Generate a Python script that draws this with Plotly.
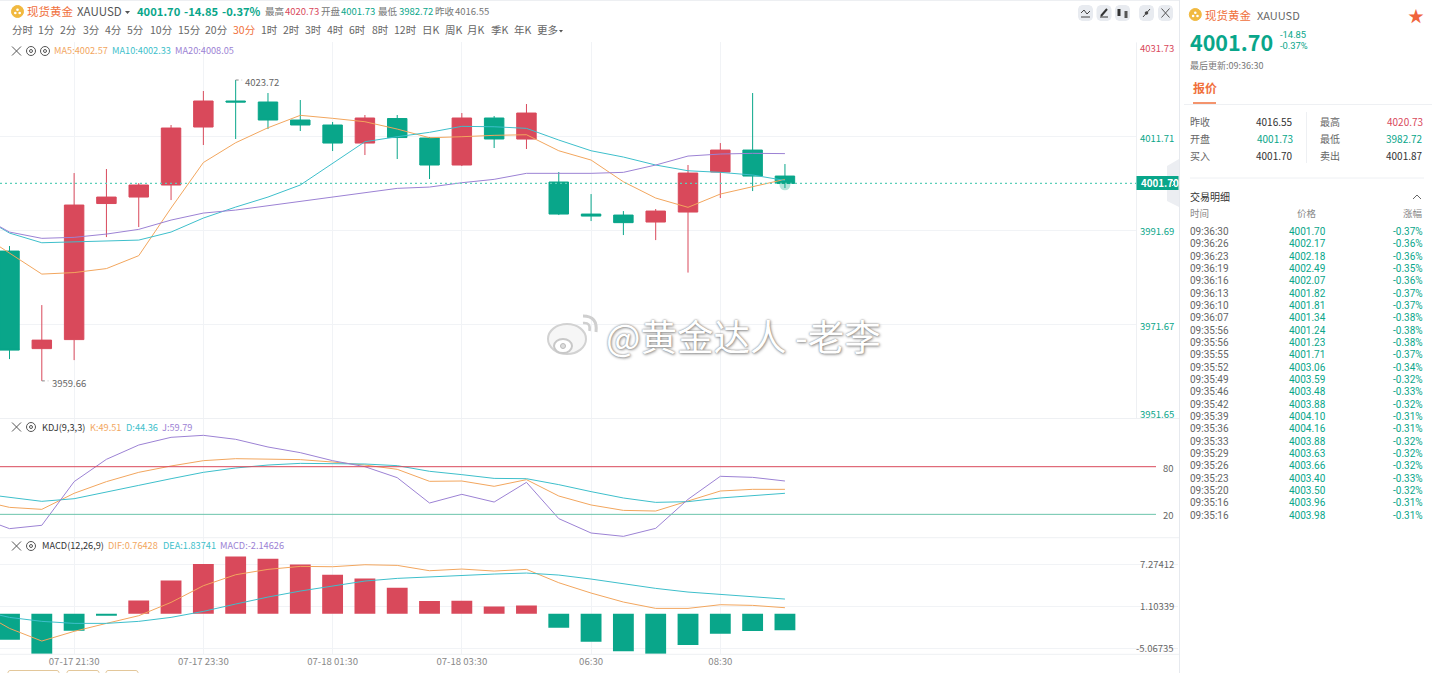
import plotly.graph_objects as go

W, H = 1432, 673
# ---------- data ----------
candle_idx = list(range(25))
line_idx = list(range(-1, 25))
open_ = [3987.30,3966.53,3968.45,3997.42,3998.80,4001.36,4013.71,4019.25,4019.04,4015.20,4014.14,4010.30,4015.52,4011.37,4005.62,4015.63,4011.15,4002.00,3995.18,3994.97,3993.48,3995.61,4004.13,4008.81,4003.27]
close = [3966.21,3968.34,3997.10,3998.80,4001.36,4013.50,4019.25,4019.04,4015.20,4014.14,4010.30,4015.63,4011.47,4005.62,4015.63,4011.16,4016.69,3995.18,3994.75,3993.35,3995.82,4003.91,4008.81,4003.27,4001.70]
high = [3988.37,3975.80,4003.91,4004.77,4001.78,4014.14,4021.38,4023.72,4020.95,4019.46,4014.78,4016.27,4016.27,4011.58,4016.69,4016.05,4018.61,4004.13,3999.44,3995.82,3996.25,4005.62,4010.30,4020.95,4005.83]
low = [3964.30,3959.66,3964.08,3990.28,3992.41,3998.16,4009.88,4011.16,4013.28,4012.86,4008.60,4007.75,4006.90,4002.64,4005.40,4009.24,4009.03,3994.97,3993.69,3990.71,3989.64,3982.72,3998.59,4000.08,4000.72]
ma5 = [3991.35,3986.96,3982.40,3982.72,3983.57,3986.32,3996.46,4006.15,4010.37,4013.56,4016.20,4015.56,4014.84,4013.28,4011.43,4011.65,4011.94,4012.07,4008.66,4006.68,4002.06,3998.59,3996.61,3999.44,4000.93,4002.57]
ma10 = [3995.18,3991.13,3989.07,3989.28,3989.43,3989.64,3991.35,3994.33,3996.67,3998.80,4001.36,4005.98,4010.58,4011.65,4012.58,4013.86,4013.77,4013.43,4010.94,4008.66,4007.32,4005.62,4004.40,4004.06,4003.49,4002.33]
ma20 = [3995.18,3991.35,3990.01,3990.22,3990.92,3991.92,3993.90,3995.39,3996.03,3996.95,3997.80,3998.74,3999.80,4000.65,4000.93,4001.85,4002.57,4003.85,4003.85,4003.85,4004.06,4005.62,4007.53,4007.96,4008.11,4008.05]
k_line = [38.1,28.8,26.3,46.5,61.2,72.9,80.9,87.6,90.1,89.3,88.9,85.9,82.1,76.7,61.6,62.0,55.3,63.7,43.1,31.8,25.0,24.2,37.2,49.4,51.5,51.5]
d_line = [46.5,41.4,36.4,39.7,47.7,56.5,64.9,72.9,78.4,82.1,84.2,84.2,83.4,81.3,74.2,70.0,65.3,64.9,57.4,48.6,40.6,35.1,36.0,40.6,43.9,46.5]
j_line = [17.1,2.0,6.2,61.2,89.3,107.3,117.0,119.5,114.5,104.8,97.7,87.6,80.0,66.2,34.3,45.2,35.5,60.3,14.6,-3.5,-7.7,2.4,38.9,67.9,66.6,62.0]
macd_hist = [-3.824,-5.882,-2.5,-0.147,1.961,4.902,7.304,8.431,8.088,7.255,5.735,5.196,3.824,1.863,1.912,1.078,1.225,-2.059,-4.118,-5.539,-5.882,-4.608,-2.941,-2.549,-2.451]
dif = [0.539,-2.157,-4.02,-2.598,-1.422,-0.294,1.667,4.118,5.735,6.52,6.961,6.912,7.206,7.108,6.324,6.569,6.275,6.52,4.559,3.039,1.716,0.784,0.784,1.324,1.225,0.882]
dea = [0.539,-0.539,-1.127,-1.422,-1.422,-1.127,-0.539,0.343,1.422,2.451,3.333,4.069,4.804,5.196,5.441,5.686,5.833,5.98,5.686,5.098,4.363,3.725,3.186,2.843,2.5,2.157]
x_tick_idx = [2, 6, 10, 14, 18, 22]
x_tick_text = ["07-17 21:30","07-17 23:30","07-18 01:30","07-18 03:30","06:30","08:30"]
price_ticks = [4031.73, 4011.71, 3991.69, 3971.67, 3951.65]
macd_ticks = [7.27412, 1.10339, -5.06735]
kdj_levels = [80, 20]
last_price = 4001.70
periods = ["分时","1分","2分","3分","4分","5分","10分","15分","20分","30分","1时","2时","3时","4时","6时","8时","12时","日K","周K","月K","季K","年K","更多"]
trade_times = ["09:36:30","09:36:26","09:36:23","09:36:19","09:36:16","09:36:13","09:36:10","09:36:07","09:35:56","09:35:56","09:35:55","09:35:52","09:35:49","09:35:46","09:35:42","09:35:39","09:35:36","09:35:33","09:35:29","09:35:26","09:35:23","09:35:20","09:35:16","09:35:16"]
trade_prices = ["4001.70","4002.17","4002.18","4002.49","4002.07","4001.82","4001.81","4001.34","4001.24","4001.23","4001.71","4003.06","4003.59","4003.48","4003.88","4004.10","4004.16","4003.88","4003.63","4003.66","4003.40","4003.50","4003.96","4003.98"]
trade_pcts = ["-0.37%","-0.36%","-0.36%","-0.35%","-0.36%","-0.37%","-0.37%","-0.38%","-0.38%","-0.38%","-0.37%","-0.34%","-0.32%","-0.33%","-0.32%","-0.31%","-0.31%","-0.32%","-0.32%","-0.32%","-0.33%","-0.32%","-0.31%","-0.31%"]

# ---------- style ----------
RED, GREEN = "#D9495B", "#09A68A"
ORANGE, CYAN, PURPLE = "#F2A65E", "#3EBFCB", "#9C82D4"
TITLE_OR = "#F0703C"
GRID = "#F1F3F6"
FONT = "Noto Sans CJK SC"
ROW_FONT = "Roboto"
STEP, X0 = 32.31, 9.5
W_MAIN, W_LOW = 1136, 1178
def xr(w): return [(0 - X0) / STEP, (w - X0) / STEP]
def dom(y0, y1): return [1 - y1 / H, 1 - y0 / H]
def px(x): return x / W
def py(y): return 1 - y / H

fig = go.Figure()
fig.add_trace(go.Candlestick(x=candle_idx, open=open_, high=high, low=low, close=close, xaxis="x", yaxis="y",
    increasing=dict(line=dict(color=RED, width=1), fillcolor=RED),
    decreasing=dict(line=dict(color=GREEN, width=1), fillcolor=GREEN), whiskerwidth=0, showlegend=False))
for name, vals, c in (("MA5", ma5, ORANGE), ("MA10", ma10, CYAN), ("MA20", ma20, PURPLE)):
    fig.add_trace(go.Scatter(x=line_idx, y=vals, mode="lines", name=name, line=dict(color=c, width=1), xaxis="x", yaxis="y", showlegend=False))
fig.add_trace(go.Scatter(x=[24], y=[last_price - 0.3], mode="markers", marker=dict(size=11, color=GREEN, opacity=0.3), xaxis="x", yaxis="y", showlegend=False))
for name, vals, c in (("K", k_line, ORANGE), ("D", d_line, CYAN), ("J", j_line, PURPLE)):
    fig.add_trace(go.Scatter(x=line_idx, y=vals, mode="lines", name=name, line=dict(color=c, width=1), xaxis="x2", yaxis="y2", showlegend=False))
fig.add_trace(go.Bar(x=candle_idx, y=macd_hist, width=0.645, marker=dict(color=[RED if v > 0 else GREEN for v in macd_hist], line=dict(width=0)), xaxis="x3", yaxis="y3", showlegend=False))
for name, vals, c in (("DIF", dif, ORANGE), ("DEA", dea, CYAN)):
    fig.add_trace(go.Scatter(x=line_idx, y=vals, mode="lines", name=name, line=dict(color=c, width=1), xaxis="x3", yaxis="y3", showlegend=False))

ann, shp = [], []
def T(x, y, text, color="#555", size=10, anchor="left", weight=None, family=FONT, **kw):
    f = dict(family=family, size=size, color=color)
    if weight: f["weight"] = weight
    if "shadow" in kw: f["shadow"] = kw.pop("shadow")
    if anchor == "left": x -= 1
    ann.append(dict(x=px(x), y=py(y), xref="paper", yref="paper", text=text, showarrow=False, font=f, xanchor=anchor, yanchor="middle", borderpad=0, **kw))
def L(x0, y0, x1, y1, color="#555", width=1, dash="solid", layer="above"):
    shp.append(dict(type="line", xref="paper", yref="paper", x0=px(x0), y0=py(y0), x1=px(x1), y1=py(y1), line=dict(color=color, width=width, dash=dash), layer=layer))
def C(cx, cy, r, fill="rgba(0,0,0,0)", line="#555", width=1, ry=None):
    ry = ry or r
    shp.append(dict(type="circle", xref="paper", yref="paper", x0=px(cx-r), x1=px(cx+r), y0=py(cy-ry), y1=py(cy+ry), fillcolor=fill, line=dict(color=line, width=width), layer="above"))
def P(points, fill, line=None, width=0):
    path = "M " + " L ".join(f"{px(a):.5f},{py(b):.5f}" for a, b in points) + " Z"
    shp.append(dict(type="path", xref="paper", yref="paper", path=path, fillcolor=fill, line=dict(color=line or fill, width=width), layer="above"))
def Q(a, b, c, color, width):
    path = f"M {px(a[0]):.5f},{py(a[1]):.5f} Q {px(b[0]):.5f},{py(b[1]):.5f} {px(c[0]):.5f},{py(c[1]):.5f}"
    shp.append(dict(type="path", xref="paper", yref="paper", path=path, line=dict(color=color, width=width), layer="above"))
def RR(x0, y0, x1, y1, fill, line=None, width=0, r=3):
    pts = [(x0+r,y0),(x1-r,y0),(x1-r*0.3,y0+r*0.3),(x1,y0+r),(x1,y1-r),(x1-r*0.3,y1-r*0.3),(x1-r,y1),(x0+r,y1),(x0+r*0.3,y1-r*0.3),(x0,y1-r),(x0,y0+r),(x0+r*0.3,y0+r*0.3)]
    P(pts, fill, line, width)
def coin(cx, cy):
    C(cx, cy, 6, fill="#F1B93F", line="#F1B93F")
    for dx, dy in ((-2.2, 1.5), (2.2, 1.5), (0, -1.8)):
        C(cx+dx, cy+dy, 1.3, fill="white", line="white", width=0)
def xicon(cy):
    L(12, cy-4.5, 21, cy+4.5, "#555"); L(21, cy-4.5, 12, cy+4.5, "#555")
def gear(cy):
    C(31, cy, 4.5, line="#555"); C(31, cy, 1.5, line="#555")

# frames
L(0, 0.5, 1179, 0.5, "#EDEFF2")
L(1179.5, 0, 1179.5, 673, "#E6E9EE")
for y in (418.5, 537.7, 654.3):
    L(0, y, 1179, y, "#EEF0F3")
L(1136.5, 42.4, 1136.5, 418.5, "#EEF0F3")

# header row
coin(17.5, 11.5)
T(27, 11, "现货黄金", TITLE_OR, 11.5)
T(76.5, 11, "XAUUSD", "#555", 11.5)
P([(125, 11), (130, 11), (127.5, 14)], "#555")
T(137, 11, "4001.70", GREEN, 11.2, weight=600)
T(184, 11, "-14.85", GREEN, 11.2, weight=600)
T(222, 11, "-0.37%", GREEN, 11.2, weight=600)
T(265, 11, "最高", "#777", 9.5); T(285, 11, "4020.73", RED, 9.5)
T(321, 11, "开盘", "#777", 9.5); T(341, 11, "4001.73", GREEN, 9.5)
T(378, 11, "最低", "#777", 9.5); T(399, 11, "3982.72", GREEN, 9.5)
T(435, 11, "昨收", "#777", 9.5); T(455, 11, "4016.55", "#777", 9.5)

# period row
period_x = [12,38,60,83,105,127,150,178,205,233,261,283,305,327,349,372,394,422,445,467,491,514,537]
for name, x in zip(periods, period_x):
    T(x, 30, name, TITLE_OR if name == "30分" else "#666", 10.5)
P([(559, 30), (563, 30), (561, 32.5)], "#555")

# indicator legends
LG = 9.2
xicon(51); gear(51); C(45, 51, 4.5, line="#555"); C(45, 51, 1.5, line="#555")
T(54, 50.5, "MA5:4002.57", ORANGE, LG); T(112, 50.5, "MA10:4002.33", CYAN, LG); T(175, 50.5, "MA20:4008.05", PURPLE, LG)
xicon(427); gear(427)
T(42, 426.5, "KDJ(9,3,3)", "#333", LG); T(89.5, 426.5, "K:49.51", ORANGE, LG); T(125.5, 426.5, "D:44.36", CYAN, LG); T(161.5, 426.5, "J:59.79", PURPLE, LG)
xicon(546); gear(546)
T(42, 545, "MACD(12,26,9)", "#333", LG); T(108, 545, "DIF:0.76428", ORANGE, LG); T(163, 545, "DEA:1.83741", CYAN, LG); T(220, 545, "MACD:-2.14626", PURPLE, LG)

# top-right tool buttons
for x0 in (1078, 1096.5, 1115, 1139, 1158):
    RR(x0, 5, x0+15, 21, "#E8EBF0", r=4)
L(1081, 17, 1090, 17, "#444"); L(1081, 13, 1084, 10, "#444"); L(1084, 10, 1087, 14, "#444"); L(1087, 14, 1090, 11, "#444")
L(1100, 17, 1108, 17, "#333"); L(1101, 16, 1107, 9, "#333", 2)
L(1119, 9, 1119, 16, "#333", 3); L(1126, 11, 1126, 18, "#555", 3)
L(1143, 17, 1150, 9, "#444"); C(1146.5, 13, 1.3, fill="#444", line="#444")
L(1161.5, 8.5, 1169.5, 17.5, "#555"); L(1169.5, 8.5, 1161.5, 17.5, "#555")

# last price line + tag
P([(1179, 159), (1179, 207), (1167, 201), (1167, 166)], "#ECEEF2")
shp.append(dict(type="line", xref="paper", yref="y", x0=0, x1=px(W_MAIN), y0=last_price, y1=last_price, line=dict(color="#5CCFB8", width=1.2, dash="2px,3px"), layer="above"))
P([(1136.5, 176), (1178.5, 176), (1178.5, 190), (1136.5, 190)], GREEN)
T(1141, 183, "4001.70", "white", 9.8, weight=600)
L(1172, 180, 1175, 183, "#DDE", 1); L(1175, 183, 1172, 186, "#DDE", 1)

# high / low marks
ann.append(dict(x=7.25, y=high[7], xref="x", yref="y", text="4023.72", showarrow=False, yshift=-2, xanchor="left", yanchor="middle", borderpad=0, font=dict(family=FONT, size=9.5, color="#666")))
shp.append(dict(type="line", xref="x", yref="y", x0=7, x1=7.2, y0=high[7], y1=high[7], line=dict(color="#888", width=1, dash="dot"), layer="above"))
ann.append(dict(x=1.27, y=low[1], xref="x", yref="y", text="3959.66", showarrow=False, yshift=-2, xanchor="left", yanchor="middle", borderpad=0, font=dict(family=FONT, size=9.5, color="#666")))
shp.append(dict(type="line", xref="x", yref="y", x0=1, x1=1.2, y0=low[1], y1=low[1], line=dict(color="#888", width=1, dash="dot"), layer="above"))

# axis value labels
for v, shift, col in zip(price_ticks, (-6, -2, -1, -2, 5), (RED, GREEN, GREEN, GREEN, GREEN)):
    ann.append(dict(x=px(1174.5), xref="paper", y=v, yref="y", yshift=shift, text=f"{v:.2f}", showarrow=False, xanchor="right", yanchor="middle", borderpad=0, font=dict(family=FONT, size=9.5, color=col)))
for v, col in zip(kdj_levels, (RED, "#6CC4AC")):
    shp.append(dict(type="line", xref="paper", yref="y2", x0=0, x1=px(1156), y0=v, y1=v, line=dict(color=col, width=1), layer="above"))
    ann.append(dict(x=px(1175), xref="paper", y=v, yref="y2", yshift=-1, text=str(v), showarrow=False, xanchor="right", yanchor="middle", borderpad=0, font=dict(family=FONT, size=9.5, color="#666")))
for v in macd_ticks:
    ann.append(dict(x=px(1175), xref="paper", y=v, yref="y3", text=f"{v:.5f}", showarrow=False, xanchor="right", yanchor="middle", borderpad=0, font=dict(family=FONT, size=9.5, color="#666")))

# bottom stubs
for a, b in ((8, 59), (67, 99), (106, 138)):
    RR(a, 670.5, b, 680, "white", "#E3C79A", 1, r=2)

# right panel
coin(1195.3, 14.5)
T(1205, 14.5, "现货黄金", TITLE_OR, 11.5)
T(1257, 14.5, "XAUUSD", "#666", 11)
T(1416, 15, "★", "#F0643C", 16, anchor="center")
T(1190, 41, "4001.70", GREEN, 21.5, weight=600)
T(1280, 34.7, "-14.85", GREEN, 9.4, family=ROW_FONT); T(1280, 45.7, "-0.37%", GREEN, 9.4, family=ROW_FONT)
T(1190, 65, "最后更新:09:36:30", "#777", 9)
T(1193, 88, "报价", TITLE_OR, 12, weight=600)
L(1193, 103, 1216, 103, TITLE_OR, 1.5)
L(1184, 104.5, 1432, 104.5, "#EEF0F3")
quote_rows = [("昨收", "4016.55", "#333", "最高", "4020.73", RED), ("开盘", "4001.73", GREEN, "最低", "3982.72", GREEN), ("买入", "4001.70", "#333", "卖出", "4001.87", "#333")]
for (a, b, bc, c, d, dc), y in zip(quote_rows, (121.5, 138.5, 155.5)):
    T(1190, y, a, "#666", 10); T(1294, y, b, bc, 10, anchor="right")
    T(1320, y, c, "#666", 10); T(1424, y, d, dc, 10, anchor="right")
L(1306.5, 112, 1306.5, 163, "#EEF0F3")
L(1190, 178, 1424, 178, "#EEF0F3")
T(1190, 196.5, "交易明细", "#333", 10)
L(1413, 199, 1417, 195, "#666"); L(1417, 195, 1421, 199, "#666")
T(1190, 213, "时间", "#888", 9.5); T(1307, 213, "价格", "#888", 9.5, anchor="center"); T(1424, 213, "涨幅", "#888", 9.5, anchor="right")
for i, (t, p, c) in enumerate(zip(trade_times, trade_prices, trade_pcts)):
    y = 231.5 + i * 12.33
    T(1190, y, t, "#666", 10, family=ROW_FONT); T(1307, y, p, GREEN, 10, anchor="center", family=ROW_FONT); T(1424, y, c, GREEN, 10, anchor="right", family=ROW_FONT)

# watermark
SH = "0 0 2px #777, 1px 1px 3px #999"
T(606, 335, "@黄金达人", "white", 36.5, shadow=SH)
T(795, 335, "-老李", "white", 36.5, shadow=SH)
C(567, 339, 19, fill="#F6F6F6", line="#D2D2D2", width=2, ry=15)
C(563, 346, 9, fill="white", line="#C8C8C8", width=2, ry=7)
C(563, 346, 2.5, fill="#DDD", line="#BBB", width=1)
Q((583, 316), (598, 316), (596, 332), "#CFCFCF", 3)
Q((583, 323), (591, 322), (589.5, 331), "#CFCFCF", 2.5)

grid = dict(showgrid=True, gridcolor=GRID, gridwidth=1, zeroline=False, showline=False, ticks="")
fig.update_layout(
    width=W, height=H, margin=dict(l=0, r=0, t=0, b=0), autosize=False,
    paper_bgcolor="white", plot_bgcolor="white", showlegend=False, boxgap=0.14,
    font=dict(family=FONT, size=10, color="#555"), annotations=ann, shapes=shp,
    xaxis=dict(domain=[0, W_MAIN / W], range=xr(W_MAIN), tickvals=x_tick_idx, showticklabels=False, rangeslider=dict(visible=False), anchor="y", **grid),
    yaxis=dict(domain=dom(42.4, 418.5), range=[price_ticks[-1], price_ticks[0]], tickvals=price_ticks, showticklabels=False, anchor="x", **grid),
    xaxis2=dict(domain=[0, W_LOW / W], range=xr(W_LOW), tickvals=x_tick_idx, showticklabels=False, anchor="y2", **grid),
    yaxis2=dict(domain=dom(418.5, 537.7), range=[-9.4, 140.7], showgrid=False, zeroline=False, showticklabels=False, anchor="x2"),
    xaxis3=dict(domain=[0, W_LOW / W], range=xr(W_LOW), tickvals=x_tick_idx, ticktext=x_tick_text, tickfont=dict(size=9.6, color="#888", family=FONT), ticklen=0, anchor="y3", **{k: v for k, v in grid.items() if k != "ticks"}),
    yaxis3=dict(domain=dom(537.7, 654.3), range=[-5.97, 11.18], tickvals=macd_ticks, showticklabels=False, anchor="x3", **grid),
)
fig.write_html("out.html", config=dict(displayModeBar=False), post_script="document.body.style.margin='0';document.body.style.overflow='hidden';")
